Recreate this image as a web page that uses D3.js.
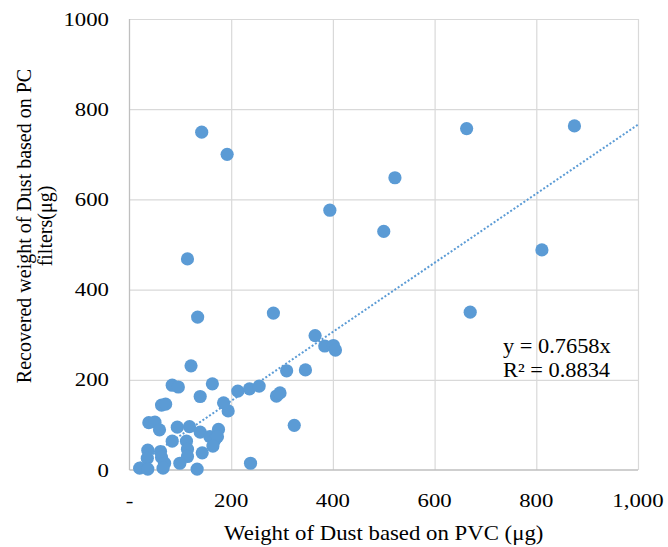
<!DOCTYPE html>
<html lang="en">
<head>
<meta charset="utf-8">
<title>PVC vs PC dust weight</title>
<script src="https://cdn.jsdelivr.net/npm/d3@7"></script>
<style>
  body { margin: 0; background: #fff; }
  text { font-family: "Liberation Serif", "Times New Roman", serif; fill: #000; }
  .grid line { stroke: #d9d9d9; stroke-width: 1.2px; }
  .grid .domain { display: none; }
</style>
</head>
<body>
<script>

// data: PVC weight (x) vs recovered PC weight (y), µg
var pvc = [142, 192, 114, 134, 283, 394, 365, 663, 875, 522, 500, 811, 670,
           384, 401, 405, 309, 346, 213, 236, 255, 289, 296, 194, 324, 238,
           121, 84, 96, 163, 139, 63, 71, 185, 38, 50, 59, 94, 118, 139, 175,
           84, 112, 158, 168, 173, 114, 143, 164, 36, 35, 61, 63, 114, 99, 69,
           20, 36, 66, 133];
var pc  = [749, 700, 468, 339, 348, 576, 298, 757, 763, 648, 529, 488, 350,
           275, 276, 266, 220, 222, 175, 180, 186, 164, 171, 131, 99, 15,
           231, 188, 184, 191, 163, 144, 146, 149, 105, 106, 89, 95, 96, 84, 90,
           64, 64, 74, 67, 74, 46, 38, 53, 44, 26, 41, 28, 30, 15, 15,
           4, 2, 4, 2];

var slope = 0.7658;
var eqLines = ["y = 0.7658x", "R² = 0.8834"];

var xTicks = [0, 200, 400, 600, 800, 1000];
var xTickLabels = ["-", "200", "400", "600", "800", "1,000"];
var yTicks = [0, 200, 400, 600, 800, 1000];

var w = 668, h = 547;
var pLeft = 129.5, pRight = 638, pTop = 19, pBottom = 470;

var svg = d3.select("body").append("svg")
    .attr("width", w)
    .attr("height", h);

var x = d3.scaleLinear().domain([0, 1000]).range([pLeft, pRight]);
var y = d3.scaleLinear().domain([0, 1000]).range([pBottom, pTop]);

// the original picture is a bit wider than tall, so text is stretched sideways
function wideText(g, px, py, size, sx, anchor, str) {
  return g.append("text")
      .attr("transform", "translate(" + px + "," + py + ") scale(" + sx + ",1)")
      .attr("text-anchor", anchor)
      .style("font-size", size + "px")
      .text(str);
}

// gridlines
svg.append("g")
    .attr("class", "grid")
    .attr("transform", "translate(0," + pBottom + ")")
    .call(d3.axisBottom(x).tickValues(xTicks.slice(1)).tickSize(-(pBottom - pTop)).tickFormat(""));
svg.append("g")
    .attr("class", "grid")
    .attr("transform", "translate(" + pLeft + ",0)")
    .call(d3.axisLeft(y).tickValues(yTicks.slice(1)).tickSize(-(pRight - pLeft)).tickFormat(""));

// axis lines
svg.append("line")
    .attr("x1", pLeft).attr("x2", pLeft).attr("y1", pTop).attr("y2", pBottom)
    .attr("stroke", "#bfbfbf").attr("stroke-width", 1.3);
svg.append("line")
    .attr("x1", pLeft).attr("x2", pRight).attr("y1", pBottom).attr("y2", pBottom)
    .attr("stroke", "#bfbfbf").attr("stroke-width", 1.3);

// tick labels
var ticks = svg.append("g");
xTicks.forEach(function(d, i) {
  wideText(ticks, x(d), 507, 19, 1.2, "middle", xTickLabels[i]);
});
yTicks.forEach(function(d) {
  wideText(ticks, 109, y(d) + 6.5, 19, 1.2, "end", String(d));
});

// trendline through origin
var xMin = d3.min(pvc);
svg.append("line")
    .attr("x1", x(xMin)).attr("y1", y(slope * xMin))
    .attr("x2", x(1000)).attr("y2", y(slope * 1000))
    .attr("stroke", "#5b9bd5")
    .attr("stroke-width", 2)
    .attr("stroke-dasharray", "2,2");

// points
svg.append("g").selectAll("circle")
    .data(pvc)
    .enter()
    .append("circle")
    .attr("cx", function(d) { return x(d); })
    .attr("cy", function(d, i) { return y(pc[i]); })
    .attr("r", 6.6)
    .attr("fill", "#5b9bd5");

// equation
var eq = svg.append("g");
eqLines.forEach(function(s, i) {
  wideText(eq, 503, 353 + i * 23.5, 20, 1.12, "start", s);
});

// axis titles
wideText(svg, (pLeft + pRight) / 2, 540, 20, 1.14, "middle", "Weight of Dust based on PVC (μg)");

var yt = svg.append("text")
    .attr("transform", "translate(0,226) rotate(-90)")
    .attr("text-anchor", "middle")
    .style("font-size", "20px");
yt.append("tspan").attr("x", 0).attr("y", 31).text("Recovered weight of Dust based on PC");
yt.append("tspan").attr("x", 0).attr("y", 52).text("filters(μg)");

</script>
</body>
</html>
